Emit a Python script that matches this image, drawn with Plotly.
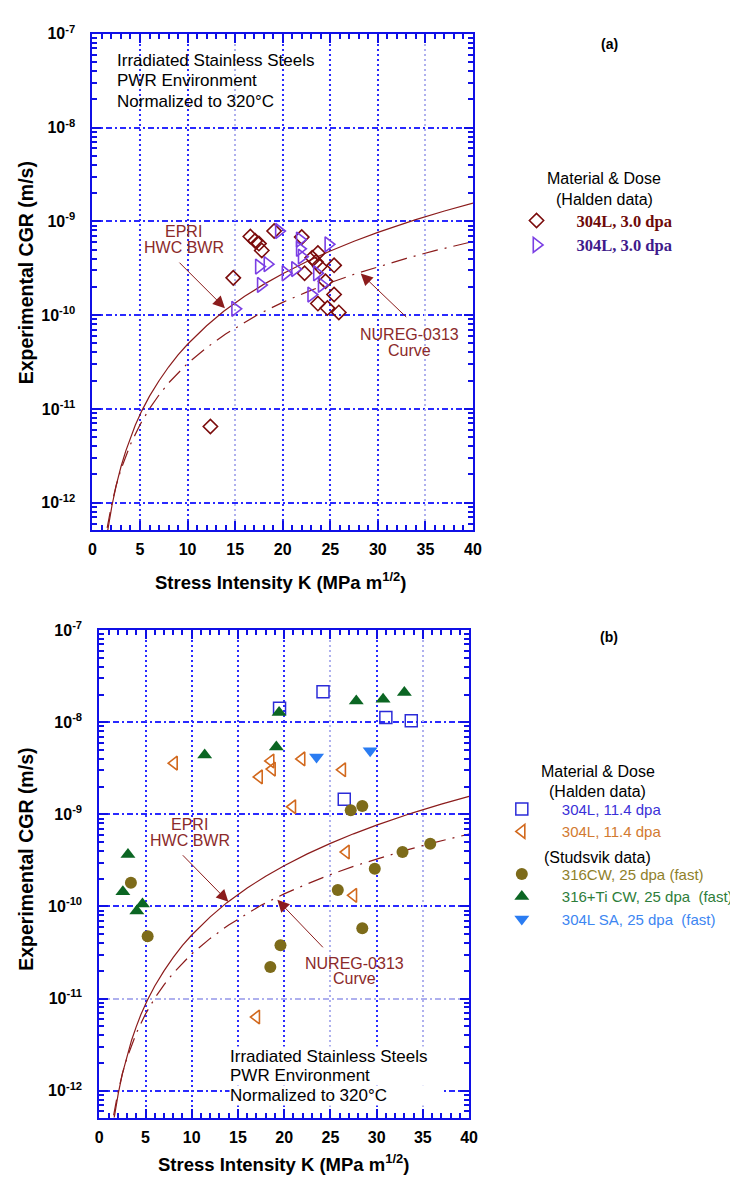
import numpy as np
import plotly.graph_objects as go

# ---------------- data ----------------
# Panel (a) Halden data
a_304L_d_K = [12.4, 14.8, 16.6, 17.1, 17.5, 17.8, 19.1, 22.0, 22.3, 23.1, 23.5, 23.7, 23.9, 24.5, 25.4, 25.4, 23.7, 24.7, 25.9]
a_304L_d_CGR = [6.5e-12, 2.5e-10, 6.9e-10, 6.2e-10, 5.8e-10, 4.9e-10, 7.9e-10, 6.8e-10, 2.8e-10, 4.1e-10, 3.7e-10, 4.6e-10, 3.3e-10, 2.3e-10, 3.4e-10, 1.66e-10, 1.33e-10, 1.19e-10, 1.07e-10]
a_304L_t_K = [15.0, 17.5, 18.4, 17.7, 19.6, 20.3, 21.3, 21.8, 21.8, 22.0, 23.6, 24.1, 23.0, 24.8]
a_304L_t_CGR = [1.17e-10, 3.3e-10, 3.5e-10, 2.1e-10, 7.9e-10, 2.8e-10, 3.1e-10, 6.4e-10, 5.1e-10, 4.2e-10, 2.8e-10, 2.1e-10, 1.66e-10, 5.7e-10]

# Panel (b) Halden data
b_sq_K = [19.5, 24.2, 31.0, 33.75, 26.5]
b_sq_CGR = [1.42e-8, 2.15e-8, 1.13e-8, 1.04e-8, 1.46e-9]
b_lt_K = [8.1, 18.55, 18.7, 17.3, 21.9, 26.3, 20.9, 26.7, 27.5, 17.0]
b_lt_CGR = [3.6e-9, 3.8e-9, 3.1e-9, 2.55e-9, 4.0e-9, 3.05e-9, 1.21e-9, 3.9e-10, 1.32e-10, 6.3e-12]
# Panel (b) Studsvik data
b_316cw_K = [27.2, 28.45, 3.42, 5.23, 19.6, 18.5, 25.8, 28.45, 29.8, 32.8, 35.8]
b_316cw_CGR = [1.11e-9, 1.23e-9, 1.81e-10, 4.75e-11, 3.8e-11, 2.2e-11, 1.51e-10, 5.8e-11, 2.57e-10, 3.9e-10, 4.8e-10]
b_316ti_K = [19.45, 27.8, 30.7, 33.0, 19.15, 11.4, 3.1, 2.55, 4.67, 4.06]
b_316ti_CGR = [1.28e-8, 1.70e-8, 1.78e-8, 2.1e-8, 5.4e-9, 4.4e-9, 3.66e-10, 1.44e-10, 1.06e-10, 8.9e-11]
b_304sa_K = [23.5, 29.3]
b_304sa_CGR = [4.2e-9, 4.9e-9]

# Reference curves
epri_K = [1.6, 1.8, 2.06, 2.5, 3.0, 3.5, 4.0, 4.5, 5.2, 6.0, 7.0, 8.0, 9.0, 10.0, 12.0, 13.8, 16.0, 18.0, 20.0, 22.5, 25.0, 27.5, 30.0, 33.9, 37.0, 40.0]
epri_CGR = [5.0e-13, 6.7e-13, 9.4e-13, 1.53e-12, 2.42e-12, 3.55e-12, 4.96e-12, 6.7e-12, 9.6e-12, 1.37e-11, 2.0e-11,
            2.8e-11, 3.77e-11, 4.9e-11, 7.7e-11, 1.1e-10, 1.59e-10, 2.13e-10, 2.77e-10, 3.72e-10, 4.84e-10, 6.15e-10,
            7.64e-10, 1.04e-9, 1.29e-9, 1.57e-9]
nureg_K = [1.55, 2.0, 2.5, 3.0, 4.0, 5.0, 6.0, 7.0, 8.0, 10.0, 12.0, 14.0, 17.5, 20.0, 22.5, 25.0, 27.5, 30.0, 33.0, 36.0, 40.0]
nureg_CGR = [5.4e-13, 9.4e-13, 1.53e-12, 2.27e-12, 4.2e-12, 6.8e-12, 1.01e-11, 1.41e-11, 1.89e-11, 3.06e-11, 4.5e-11,
             6.3e-11, 1.03e-10, 1.37e-10, 1.76e-10, 2.22e-10, 2.73e-10, 3.29e-10, 4.04e-10, 4.88e-10, 6.1e-10]

x_ticks = [0, 5, 10, 15, 20, 25, 30, 35, 40]
y_exps = [-12, -11, -10, -9, -8, -7]
# grid lines drawn pale in the original
a_x_grid_dark = [5, 10, 20, 25, 30]
a_x_grid_pale = [15, 35]
b_x_grid_dark = [5, 10, 15, 20, 30]
b_x_grid_pale = [25, 35]
a_y_grid_dark = [-12, -11, -10, -9, -8]
b_y_grid_dark = [-12, -10, -9, -8]
b_y_grid_pale = [-11]

info_lines = ["Irradiated Stainless Steels", "PWR Environment", "Normalized to 320°C"]

# ---------------- styling ----------------
# the page body has an 8px margin: size the figure so reference pixel p maps to p - 8
OFF = 8
W, H = 730, 1169
FONT = "Liberation Sans, Arial, sans-serif"
AX_BLUE = "#1010e6"
GRID_BLUE = "#2a2aff"
GRID_PALE = "#aeb0ee"
CURVE = "#8b1c1c"
LABEL_RED = "#8b2a2a"
YRANGE = [np.log10(5.1e-13), -7]

fig = go.Figure()

# empty traces so that the grid-only overlay axes get drawn
for xa, ya in [("x3", "y"), ("x4", "y"), ("x5", "y2"), ("x6", "y2"), ("x", "y3"), ("x2", "y4"), ("x2", "y5")]:
    fig.add_trace(go.Scatter(x=[], y=[], xaxis=xa, yaxis=ya, showlegend=False, hoverinfo="skip"))

def add_curves(xa, ya):
    fig.add_trace(go.Scatter(x=epri_K, y=epri_CGR, mode="lines", line=dict(color=CURVE, width=1.2),
                             showlegend=False, xaxis=xa, yaxis=ya, hoverinfo="skip"))
    fig.add_trace(go.Scatter(x=nureg_K, y=nureg_CGR, mode="lines",
                             line=dict(color=CURVE, width=1.2, dash="16px,7px,2px,7px"),
                             showlegend=False, xaxis=xa, yaxis=ya, hoverinfo="skip"))

add_curves("x", "y")
add_curves("x2", "y2")

def span(txt, col):
    return f'<span style="color:{col}">{txt}</span>'

# Panel (a) points
fig.add_trace(go.Scatter(x=a_304L_d_K, y=a_304L_d_CGR, mode="markers", xaxis="x", yaxis="y",
                         marker=dict(symbol="diamond-open", size=11, color="#7b0c0c", line=dict(width=1.6, color="#7b0c0c")),
                         name=span("304L, 3.0 dpa", "#6e0a0a"), legend="legend"))
fig.add_trace(go.Scatter(x=a_304L_t_K, y=a_304L_t_CGR, mode="markers", xaxis="x", yaxis="y",
                         marker=dict(symbol="triangle-right-open", size=13, color="#7b3fe4", line=dict(width=1.6, color="#7b3fe4")),
                         name=span("304L, 3.0 dpa", "#3f1a8c"), legend="legend"))

# Panel (b) points
fig.add_trace(go.Scatter(x=b_sq_K, y=b_sq_CGR, mode="markers", xaxis="x2", yaxis="y2",
                         marker=dict(symbol="square-open", size=12, color="#2b2bd8", line=dict(width=1.5, color="#2b2bd8")),
                         name=span("304L, 11.4 dpa", "#3a30d8"), legend="legend2", legendgroup="halden"))
fig.add_trace(go.Scatter(x=b_lt_K, y=b_lt_CGR, mode="markers", xaxis="x2", yaxis="y2",
                         marker=dict(symbol="triangle-left-open", size=12, color="#d2691e", line=dict(width=1.6, color="#d2691e")),
                         name=span("304L, 11.4 dpa", "#d27a30"), legend="legend2", legendgroup="halden"))
fig.add_trace(go.Scatter(x=b_316cw_K, y=b_316cw_CGR, mode="markers", xaxis="x2", yaxis="y2",
                         marker=dict(symbol="circle", size=12, color="#7d6b1a"),
                         name=span("316CW, 25 dpa (fast)", "#8f7f2a"), legend="legend2", legendgroup="studsvik"))
fig.add_trace(go.Scatter(x=b_316ti_K, y=b_316ti_CGR, mode="markers", xaxis="x2", yaxis="y2",
                         marker=dict(symbol="triangle-up", size=13, color="#0b6623"),
                         name=span("316+Ti CW, 25 dpa  (fast)", "#2e7d3a"), legend="legend2", legendgroup="studsvik"))
fig.add_trace(go.Scatter(x=b_304sa_K, y=b_304sa_CGR, mode="markers", xaxis="x2", yaxis="y2",
                         marker=dict(symbol="triangle-down", size=13, color="#2a7cf2"),
                         name=span("304L SA, 25 dpa  (fast)", "#3d86f2"), legend="legend2", legendgroup="studsvik"))

def px_x(p):
    return (p - OFF) / W

def px_y(p):
    return 1 - (p - OFF) / H

xaxis_common = dict(
    range=[0, 40], tickmode="array", tickvals=x_ticks, ticktext=[str(v) for v in x_ticks],
    showline=True, linecolor=AX_BLUE, linewidth=2, mirror="ticks",
    ticks="inside", ticklen=9, tickwidth=2, tickcolor=AX_BLUE,
    minor=dict(ticks="inside", ticklen=5, tickwidth=1.5, tickcolor=AX_BLUE, dtick=1, tick0=0, showgrid=False),
    showgrid=False, zeroline=False,
    tickfont=dict(family=FONT, size=16, color="black", weight="bold"),
    ticklabelstandoff=4,
)
yaxis_common = dict(
    type="log", range=YRANGE, tickmode="array",
    tickvals=[10.0 ** e for e in y_exps], ticktext=[f"10<sup>{e}</sup>" for e in y_exps],
    showline=True, linecolor=AX_BLUE, linewidth=2, mirror="ticks",
    ticks="inside", ticklen=9, tickwidth=2, tickcolor=AX_BLUE,
    minor=dict(ticks="inside", ticklen=5, tickwidth=1.5, tickcolor=AX_BLUE, dtick="D1", showgrid=False),
    showgrid=False, zeroline=False,
    tickfont=dict(family=FONT, size=16, color="black", weight="bold"),
    ticklabelstandoff=12,
)

def grid_x(over, anchor, vals, color):
    return dict(overlaying=over, anchor=anchor, range=[0, 40], tickmode="array", tickvals=vals,
                showticklabels=False, ticks="", showline=False, zeroline=False,
                showgrid=True, gridcolor=color, griddash="2px,3px", gridwidth=1.5)

def grid_y(over, anchor, exps, color):
    return dict(overlaying=over, anchor=anchor, type="log", range=YRANGE, tickmode="array",
                tickvals=[10.0 ** e for e in exps], showticklabels=False, ticks="", showline=False,
                zeroline=False, showgrid=True, gridcolor=color, griddash="6px,3px,2px,3px", gridwidth=1.5)

fig.update_layout(
    width=W, height=H, margin=dict(l=0, r=0, t=0, b=0),
    paper_bgcolor="white", plot_bgcolor="white",
    font=dict(family=FONT, color="black"),
    xaxis=dict(domain=[px_x(90), px_x(478)], anchor="y", **xaxis_common),
    yaxis=dict(domain=[px_y(524), px_y(23)], anchor="x", **yaxis_common),
    xaxis2=dict(domain=[px_x(97), px_x(474)], anchor="y2", **xaxis_common),
    yaxis2=dict(domain=[px_y(1117), px_y(625)], anchor="x2", **yaxis_common),
    xaxis3=grid_x("x", "y", a_x_grid_dark, GRID_BLUE),
    xaxis4=grid_x("x", "y", a_x_grid_pale, GRID_PALE),
    xaxis5=grid_x("x2", "y2", b_x_grid_dark, GRID_BLUE),
    xaxis6=grid_x("x2", "y2", b_x_grid_pale, GRID_PALE),
    yaxis3=grid_y("y", "x", a_y_grid_dark, GRID_BLUE),
    yaxis4=grid_y("y2", "x2", b_y_grid_dark, GRID_BLUE),
    yaxis5=grid_y("y2", "x2", b_y_grid_pale, GRID_PALE),
    legend=dict(x=px_x(502), y=px_y(194), xanchor="left", yanchor="top", itemwidth=70,
                font=dict(family="Liberation Serif, Times New Roman, serif", size=16.5, weight="bold"),
                bgcolor="rgba(0,0,0,0)", tracegroupgap=0),
    legend2=dict(x=px_x(487), y=px_y(789), xanchor="left", yanchor="top", itemwidth=70,
                 font=dict(family=FONT, size=15), bgcolor="rgba(0,0,0,0)", tracegroupgap=20,
                 traceorder="grouped"),
    showlegend=True,
)

ann = []
def text(x, y, t, size=16, color="black", align="center", xanchor="center", yanchor="middle", bold=False,
         bg=None, angle=0, width=None):
    d = dict(x=px_x(x), y=px_y(y), xref="paper", yref="paper", text=t, showarrow=False,
             font=dict(family=FONT, size=size, color=color, weight="bold" if bold else "normal"),
             align=align, xanchor=xanchor, yanchor=yanchor, textangle=angle)
    if bg:
        d["bgcolor"] = bg
        d["borderpad"] = 0
    if width:
        d["width"] = width
    ann.append(d)

def arrow(xa, ya, xk, logc, axp, ayp):
    ann.append(dict(x=xk, y=logc, xref=xa, yref=ya, text="", showarrow=True, ax=axp, ay=ayp,
                    arrowhead=2, arrowsize=2.4, arrowwidth=1, arrowcolor=CURVE))

# Panel (a)
for t, yy in zip(info_lines, [50, 70.5, 91]):
    text(113, yy, t, size=17, align="left", xanchor="left")
text(617, 33, "(a)", size=14, bold=True)
text(183, 223, "EPRI", color=LABEL_RED)
text(183, 239, "HWC BWR", color=LABEL_RED)
text(413, 327, "NUREG-0313", color=LABEL_RED)
text(413, 343, "Curve", color=LABEL_RED)
arrow("x", "y", 13.93, -9.925, -47, -47)
arrow("x", "y", 28.2, -9.555, 47, 45)
text(282, 575, "Stress Intensity K (MPa m<sup>1/2</sup>)", size=18.5, bold=True)
text(22, 264, "Experimental CGR (m/s)", size=19.5, bold=True, angle=-90)
text(612, 169, "Material & Dose", size=16)
text(612, 190, "(Halden data)", size=16)

# Panel (b)
for t, yy in zip(info_lines, [1055, 1075, 1095]):
    text(229, yy, t, size=17, align="left", xanchor="left", bg="white", width=212)
text(617, 632, "(b)", size=14, bold=True)
text(189, 821, "EPRI", color=LABEL_RED)
text(189, 837, "HWC BWR", color=LABEL_RED)
text(357, 961, "NUREG-0313", color=LABEL_RED)
text(357, 977, "Curve", color=LABEL_RED)
arrow("x2", "y2", 13.96, -9.949, -47, -48)
arrow("x2", "y2", 19.26, -9.928, 47, 49)
text(285, 1163, "Stress Intensity K (MPa m<sup>1/2</sup>)", size=18.5, bold=True)
text(22, 856, "Experimental CGR (m/s)", size=19.5, bold=True, angle=-90)
text(605, 768, "Material & Dose", size=16)
text(605, 788, "(Halden data)", size=16)
text(605, 854, "(Studsvik data)", size=16)

fig.update_layout(annotations=ann)
fig.write_html("out.html")
